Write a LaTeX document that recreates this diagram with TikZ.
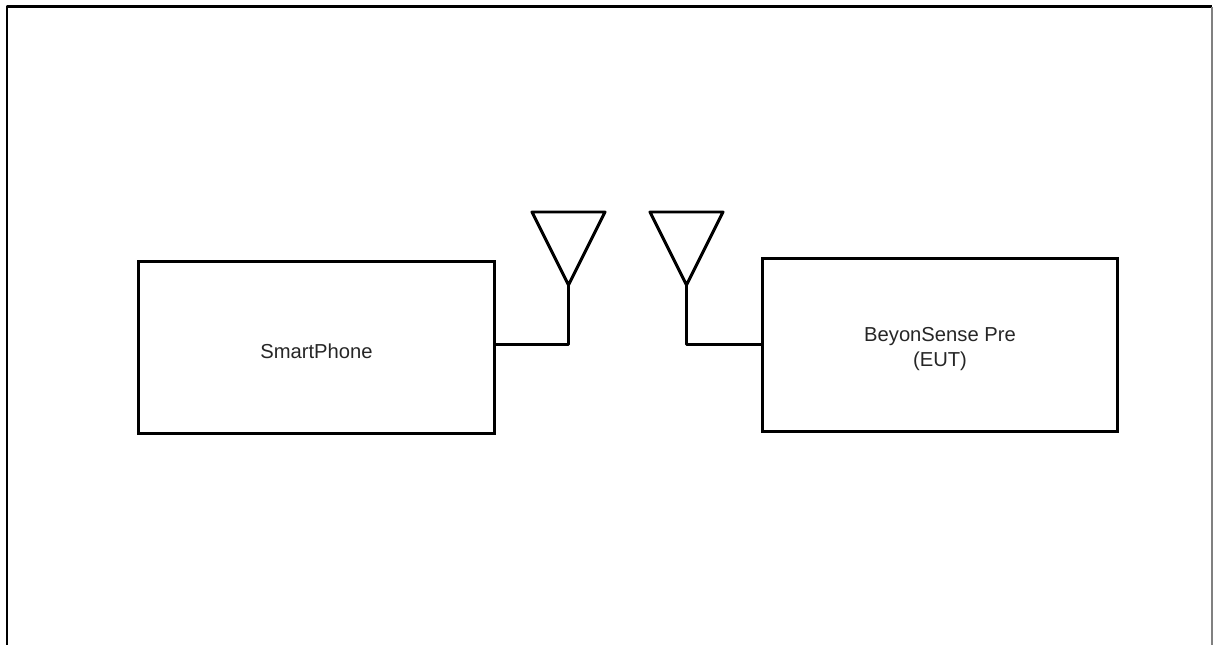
\documentclass[tikz,border=0pt]{standalone}
\usepackage{fontspec}
\setmainfont{Liberation Sans}
\usetikzlibrary{positioning}
\tikzset{
    devbox/.style={draw,line width=0.06cm,minimum width=7.12cm,minimum height=3.46cm,inner sep=0pt},
    devlabel/.style={inner sep=0pt,align=center,text=black!85,yshift=-0.08cm,font=\fontsize{11.5}{14}\selectfont},
    wire/.style={line width=0.06cm,line join=round},
}

\begin{document}
\begin{tikzpicture}[x=0.02cm,y=-0.02cm]
    \useasboundingbox (0,0) rectangle (1213,645);
    % outer frame, open at the bottom
    \coordinate (frameBL) at (7,645);
    \coordinate (frameTL) at (7,7);
    \coordinate (frameTR) at (1212,7);
    \coordinate (frameBR) at (1212,645);
    \draw[wire] (frameBL) -- (frameTL) -- (frameTR);
    \draw[gray,line width=0.03cm] (frameTR) -- (frameBR);
    % devices
    \node[devbox] (phone) at (316.5,347.5) {};
    \node[devbox] (eut) at (940,345) {};
    \node[devlabel] (phoneLabel) at (phone.center) {SmartPhone};
    \node[devlabel] (eutLabel) at (eut.center) {BeyonSense Pre\\(EUT)};
    % antennas
    \coordinate (phoneTipL) at (532,212);
    \coordinate (phoneTipR) at (605,212);
    \coordinate (phoneAnt) at (568.5,285);
    \coordinate (phoneFoot) at (568.5,344);
    \coordinate (eutTipL) at (650,212);
    \coordinate (eutTipR) at (723,212);
    \coordinate (eutAnt) at (686.5,285);
    \coordinate (eutFoot) at (686.5,344);
    \draw[wire] (phoneTipL) -- (phoneTipR) -- (phoneAnt) -- cycle;
    \draw[wire] (eutTipL) -- (eutTipR) -- (eutAnt) -- cycle;
    % feed lines
    \draw[wire] (phoneAnt) -- (phoneFoot) -- (phoneFoot -| phone.east);
    \draw[wire] (eutAnt) -- (eutFoot) -- (eutFoot -| eut.west);
\end{tikzpicture}
\end{document}
